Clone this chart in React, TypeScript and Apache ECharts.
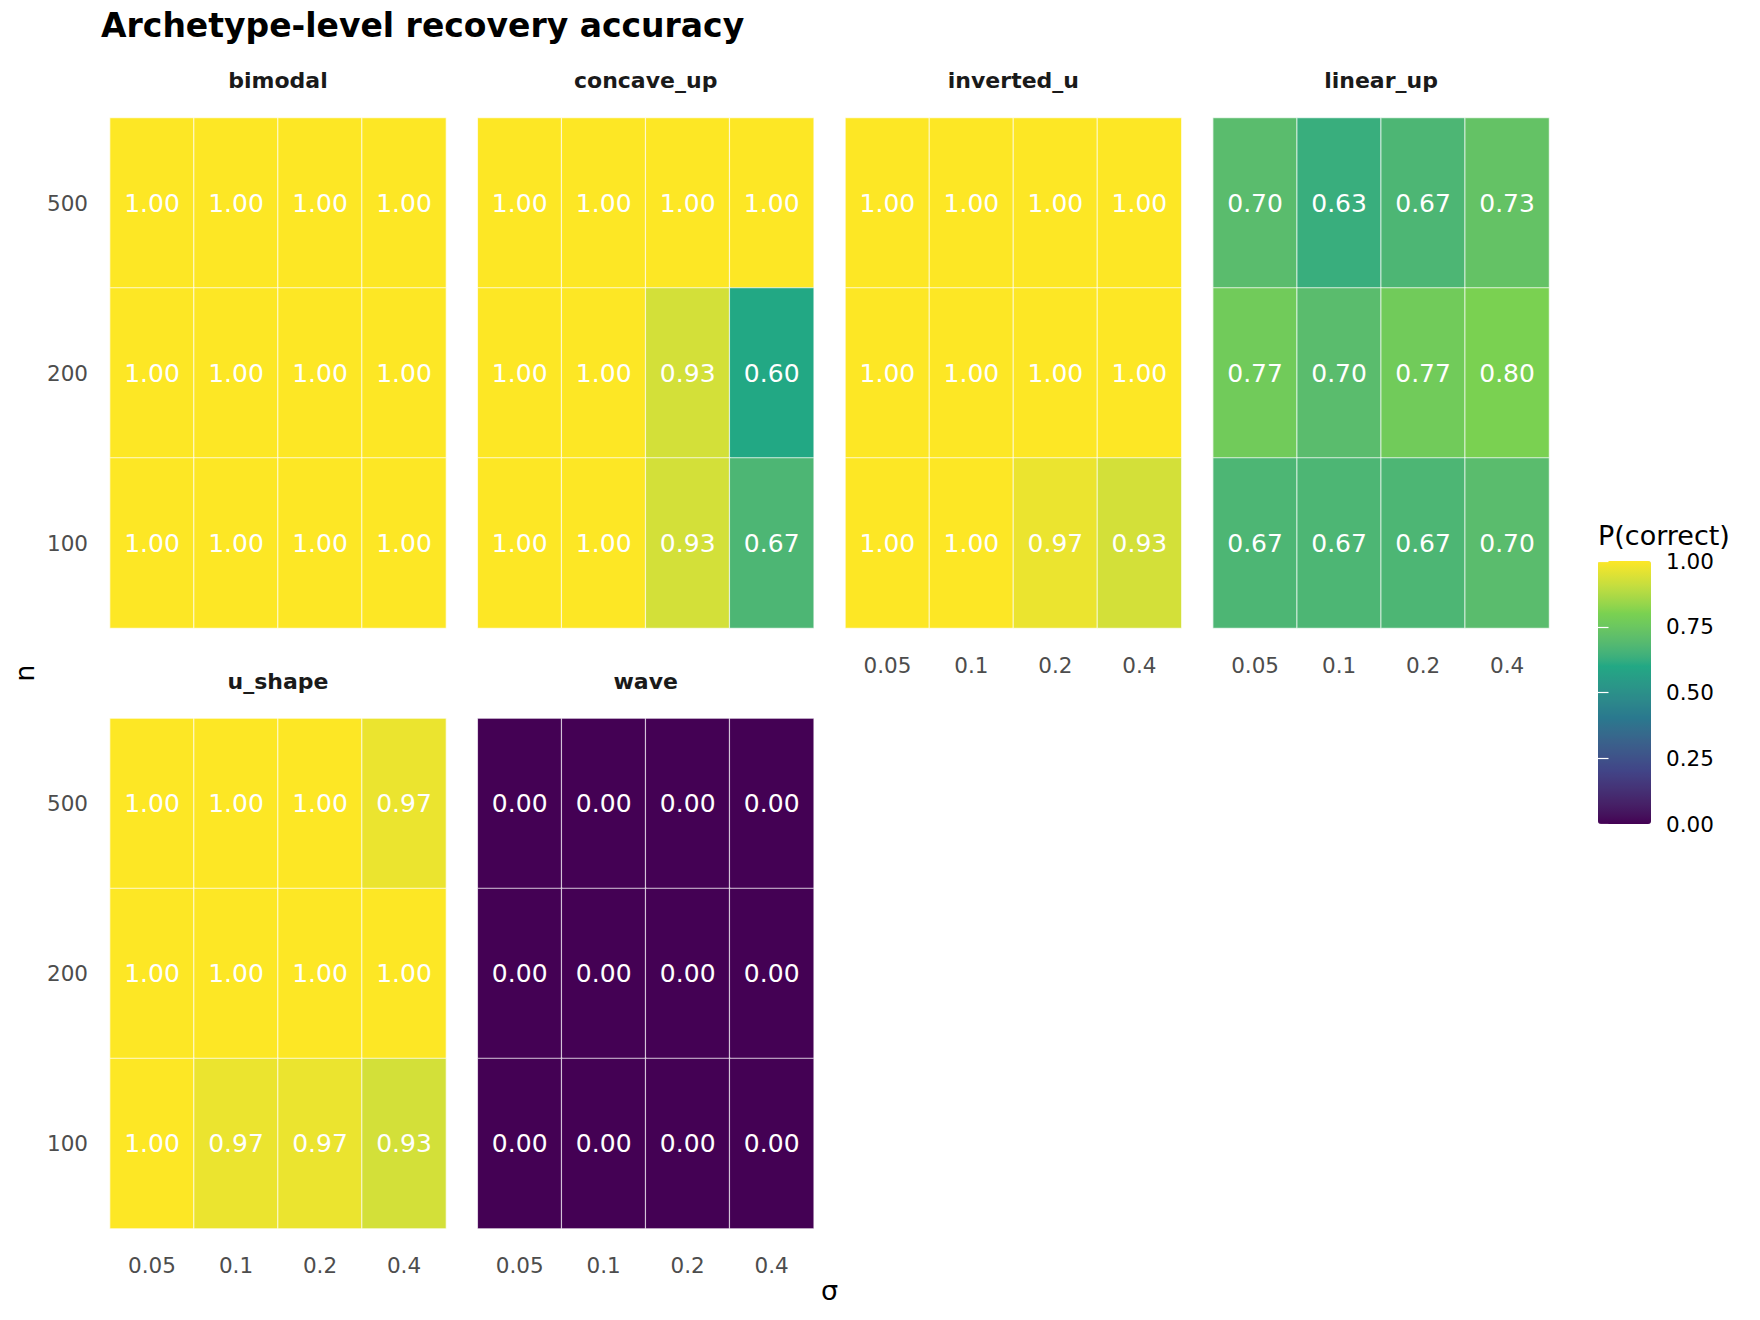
import React, { useEffect, useRef } from "react";
import * as echarts from "echarts";

// ---------- data ----------
const sigmaLabels = ["0.05", "0.1", "0.2", "0.4"];
const nLabels = ["100", "200", "500"]; // bottom -> top
const archetypes = ["bimodal", "concave_up", "inverted_u", "linear_up", "u_shape", "wave"];

// each: rows n = 500, 200, 100 (top -> bottom); columns sigma = 0.05, 0.1, 0.2, 0.4
const bimodal = [
  [1.0, 1.0, 1.0, 1.0],
  [1.0, 1.0, 1.0, 1.0],
  [1.0, 1.0, 1.0, 1.0],
];
const concaveUp = [
  [1.0, 1.0, 1.0, 1.0],
  [1.0, 1.0, 0.93, 0.6],
  [1.0, 1.0, 0.93, 0.67],
];
const invertedU = [
  [1.0, 1.0, 1.0, 1.0],
  [1.0, 1.0, 1.0, 1.0],
  [1.0, 1.0, 0.97, 0.93],
];
const linearUp = [
  [0.7, 0.63, 0.67, 0.73],
  [0.77, 0.7, 0.77, 0.8],
  [0.67, 0.67, 0.67, 0.7],
];
const uShape = [
  [1.0, 1.0, 1.0, 0.97],
  [1.0, 1.0, 1.0, 1.0],
  [1.0, 0.97, 0.97, 0.93],
];
const wave = [
  [0.0, 0.0, 0.0, 0.0],
  [0.0, 0.0, 0.0, 0.0],
  [0.0, 0.0, 0.0, 0.0],
];
const panelValues = [bimodal, concaveUp, invertedU, linearUp, uShape, wave];

const legendTicks = [0, 0.25, 0.5, 0.75, 1];

// viridis(6) stops, interpolated in CIE Lab (as ggplot's scale_fill_viridis_c does)
const viridisStops = ["#440154", "#414487", "#2A788E", "#22A884", "#7AD151", "#FDE725"];

// ---------- colour helpers ----------
function hexToRgb(h: string): number[] {
  const v = parseInt(h.slice(1), 16);
  return [(v >> 16) & 255, (v >> 8) & 255, v & 255];
}
function toLinear(c: number) {
  const s = c / 255;
  return s <= 0.04045 ? s / 12.92 : Math.pow((s + 0.055) / 1.055, 2.4);
}
function fromLinear(c: number) {
  const s = c <= 0.0031308 ? 12.92 * c : 1.055 * Math.pow(c, 1 / 2.4) - 0.055;
  return Math.max(0, Math.min(255, Math.round(s * 255)));
}
const WX = 0.95047, WY = 1.0, WZ = 1.08883;
function rgbToLab(rgb: number[]): number[] {
  const [r, g, b] = rgb.map(toLinear);
  const x = (r * 0.4124564 + g * 0.3575761 + b * 0.1804375) / WX;
  const y = (r * 0.2126729 + g * 0.7151522 + b * 0.072175) / WY;
  const z = (r * 0.0193339 + g * 0.119192 + b * 0.9503041) / WZ;
  const f = (t: number) => (t > 216 / 24389 ? Math.cbrt(t) : (24389 / 27 * t + 16) / 116);
  const fx = f(x), fy = f(y), fz = f(z);
  return [116 * fy - 16, 500 * (fx - fy), 200 * (fy - fz)];
}
function labToHex(lab: number[]): string {
  const [L, a, bb] = lab;
  const fy = (L + 16) / 116;
  const fx = fy + a / 500;
  const fz = fy - bb / 200;
  const inv = (t: number) => (t * t * t > 216 / 24389 ? t * t * t : (116 * t - 16) / (24389 / 27));
  const x = inv(fx) * WX, y = inv(fy) * WY, z = inv(fz) * WZ;
  const r = x * 3.2404542 + y * -1.5371385 + z * -0.4985314;
  const g = x * -0.969266 + y * 1.8760108 + z * 0.041556;
  const b = x * 0.0556434 + y * -0.2040259 + z * 1.0572252;
  return "#" + [r, g, b].map((c) => fromLinear(c).toString(16).padStart(2, "0")).join("");
}
function buildPalette(stops: string[], steps: number): string[] {
  const labs = stops.map((s) => rgbToLab(hexToRgb(s)));
  const out: string[] = [];
  for (let i = 0; i <= steps; i++) {
    const t = i / steps;
    const pos = t * (labs.length - 1);
    const k = Math.min(labs.length - 2, Math.floor(pos));
    const f = pos - k;
    const a = labs[k], b = labs[k + 1];
    out.push(labToHex([a[0] + (b[0] - a[0]) * f, a[1] + (b[1] - a[1]) * f, a[2] + (b[2] - a[2]) * f]));
  }
  return out;
}
const palette = buildPalette(viridisStops, 100);

// ---------- layout ----------
const W = 1760;
const H = 1320;
const FONT = '"DejaVu Sans", "Noto Sans", sans-serif';
const NCOL = 4;
const PANEL_LEFT = 110;
const PANEL_TOP = 118;
const PANEL_W = 336;
const PANEL_H = 510;
const COL_PITCH = 367.7;
const ROW_PITCH = 600.5;
const LEG_LEFT = 1598;
const LEG_TOP = 561;
const LEG_W = 53;
const LEG_H = 263;

function buildOption(): any {
  const n = archetypes.length;
  const grids: any[] = [];
  const xAxes: any[] = [];
  const yAxes: any[] = [];
  const series: any[] = [];
  const graphics: any[] = [];

  for (let i = 0; i < n; i++) {
    const col = i % NCOL;
    const row = Math.floor(i / NCOL);
    const left = PANEL_LEFT + col * COL_PITCH;
    const top = PANEL_TOP + row * ROW_PITCH;
    grids.push({ left, top, width: PANEL_W, height: PANEL_H, containLabel: false });
    const hasBelow = i + NCOL < n;
    xAxes.push({
      type: "category",
      gridIndex: i,
      data: sigmaLabels,
      axisLine: { show: false },
      axisTick: { show: false },
      splitLine: { show: false },
      axisLabel: {
        show: !hasBelow,
        color: "#4D4D4D",
        fontSize: 21.5,
        fontFamily: FONT,
        margin: 26,
      },
    });
    yAxes.push({
      type: "category",
      gridIndex: i,
      data: nLabels,
      axisLine: { show: false },
      axisTick: { show: false },
      splitLine: { show: false },
      axisLabel: {
        show: col === 0,
        color: "#4D4D4D",
        fontSize: 21.5,
        fontFamily: FONT,
        margin: 22,
      },
    });
    const vals = panelValues[i];
    const data: any[] = [];
    vals.forEach((rowVals, r) => {
      rowVals.forEach((v, c) => {
        data.push([c, nLabels.length - 1 - r, v]);
      });
    });
    series.push({
      type: "heatmap",
      name: archetypes[i],
      xAxisIndex: i,
      yAxisIndex: i,
      data,
      itemStyle: { borderColor: "rgba(255,255,255,0.7)", borderWidth: 1.2 },
      label: {
        show: true,
        color: "#FFFFFF",
        fontSize: 25,
        fontFamily: FONT,
        formatter: (p: any) => (p.value[2] as number).toFixed(2),
      },
      emphasis: { disabled: true },
    });
    graphics.push({
      type: "text",
      x: left + PANEL_W / 2,
      y: top - 37.5,
      style: {
        text: archetypes[i],
        fill: "#1A1A1A",
        fontSize: 22,
        fontWeight: "bold",
        fontFamily: FONT,
        textAlign: "center",
        textVerticalAlign: "middle",
        align: "center",
        verticalAlign: "middle",
      },
    });
  }

  // legend colorbar ticks/labels via an axis grid
  const lg = n;
  grids.push({ left: LEG_LEFT, top: LEG_TOP, width: LEG_W, height: LEG_H, containLabel: false });
  xAxes.push({ type: "value", gridIndex: lg, min: 0, max: 1, show: false });
  const legAxisBase = {
    type: "value",
    gridIndex: lg,
    min: legendTicks[0],
    max: legendTicks[legendTicks.length - 1],
    interval: legendTicks[1] - legendTicks[0],
    z: 10,
    axisLine: { show: false },
    splitLine: { show: false },
    axisTick: { show: true, inside: true, length: 10.5, lineStyle: { color: "#FFFFFF", width: 1.2 } },
  };
  yAxes.push({
    ...legAxisBase,
    position: "right",
    axisLabel: {
      show: true,
      color: "#000000",
      fontSize: 21.5,
      fontFamily: FONT,
      margin: 15,
      formatter: (v: number) => v.toFixed(2),
    },
  });
  yAxes.push({
    ...legAxisBase,
    position: "left",
    axisLabel: { show: false },
  });
  series.push({
    type: "scatter",
    xAxisIndex: lg,
    yAxisIndex: lg,
    data: [],
    silent: true,
  });

  graphics.push({
    type: "text",
    x: 101,
    y: 25.5,
    style: {
      text: "Archetype-level recovery accuracy",
      fill: "#000000",
      fontSize: 33,
      fontWeight: "bold",
      fontFamily: FONT,
      textVerticalAlign: "middle",
      verticalAlign: "middle",
    },
  });
  graphics.push({
    type: "text",
    x: 24.5,
    y: (PANEL_TOP + PANEL_TOP + ROW_PITCH + PANEL_H) / 2,
    rotation: Math.PI / 2,
    style: {
      text: "n",
      fill: "#000000",
      fontSize: 27,
      fontFamily: FONT,
      textAlign: "center",
      textVerticalAlign: "middle",
      align: "center",
      verticalAlign: "middle",
    },
  });
  graphics.push({
    type: "text",
    x: (PANEL_LEFT + PANEL_LEFT + (NCOL - 1) * COL_PITCH + PANEL_W) / 2,
    y: 1290,
    style: {
      text: "σ",
      fill: "#000000",
      fontSize: 27,
      fontFamily: FONT,
      textAlign: "center",
      textVerticalAlign: "middle",
      align: "center",
      verticalAlign: "middle",
    },
  });
  graphics.push({
    type: "text",
    x: LEG_LEFT,
    y: 535,
    style: {
      text: "P(correct)",
      fill: "#000000",
      fontSize: 27,
      fontFamily: FONT,
      textVerticalAlign: "middle",
      verticalAlign: "middle",
    },
  });

  return {
    animation: false,
    backgroundColor: "#FFFFFF",
    textStyle: { fontFamily: FONT },
    grid: grids,
    xAxis: xAxes,
    yAxis: yAxes,
    series,
    graphic: { elements: graphics },
    visualMap: {
      type: "continuous",
      min: 0,
      max: 1,
      seriesIndex: archetypes.map((_, i) => i),
      inRange: { color: palette },
      left: LEG_LEFT,
      top: LEG_TOP,
      itemWidth: LEG_W,
      itemHeight: LEG_H,
      padding: 0,
      calculable: false,
      hoverLink: false,
      orient: "vertical",
    },
  };
}

export default function App() {
  const ref = useRef<HTMLDivElement>(null);
  useEffect(() => {
    document.body.style.margin = "0";
    if (!ref.current) return;
    const chart = echarts.init(ref.current, undefined, { renderer: "svg" });
    chart.setOption(buildOption());
    return () => chart.dispose();
  }, []);
  return <div ref={ref} style={{ width: W, height: H }} />;
}
